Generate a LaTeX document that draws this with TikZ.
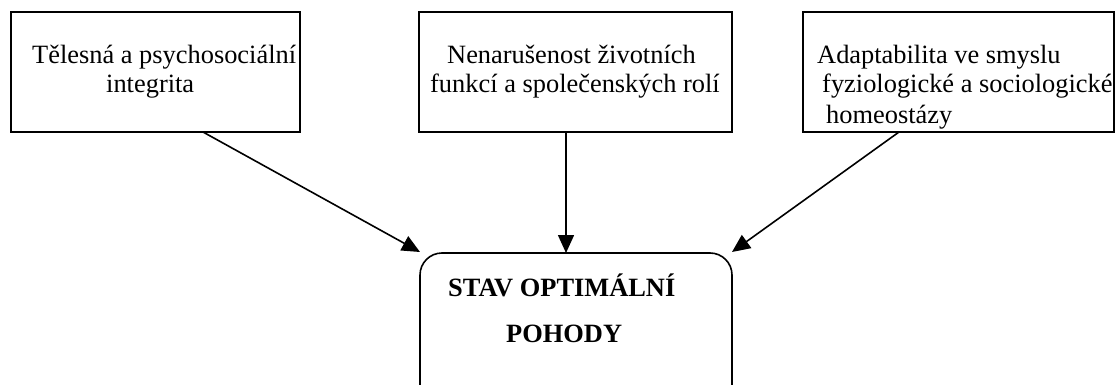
\documentclass[tikz,border=0pt]{standalone}
\usepackage{fontspec}
\setmainfont{Liberation Serif}
\usetikzlibrary{arrows.meta,calc}
\begin{document}
\begin{tikzpicture}[x=1pt,y=-1pt,
  box/.style={draw,line width=1.6pt},
  txt/.style={anchor=base west,inner sep=0pt,font=\fontsize{26.4}{30}\selectfont},
  btxt/.style={anchor=base west,inner sep=0pt,font=\fontsize{26.4}{30}\selectfont\bfseries},
  arr/.style={line width=1.6pt,-{Triangle[length=18pt,width=16pt]}}]
\useasboundingbox (0,0) rectangle (1115,385);
\clip (0,0) rectangle (1115,385);
\draw[box] (11,12) rectangle (300,132);
\draw[box] (419,12) rectangle (732,132);
\draw[box] (803,12) rectangle (1114,132);
\draw[box,rounded corners=22pt] (420,253) rectangle (732,410);
\coordinate (s1) at (203,132);
\coordinate (s2) at (566,132);
\coordinate (s3) at (899,132);
\coordinate (e1) at (420,252);
\coordinate (e2) at (566,253);
\coordinate (e3) at (732,252);
\node[txt] (t1a) at (32,64) {Tělesná a psychosociální};
\node[txt] (t1b) at (106,93) {integrita};
\node[txt] (t2a) at (447,64) {Nenarušenost životních};
\node[txt] (t2b) at (430,93) {funkcí a společenských rolí};
\node[txt] (t3a) at (817,64) {Adaptabilita ve smyslu};
\node[txt] (t3b) at (822,93) {fyziologické a sociologické};
\node[txt] (t3c) at (826,123) {homeostázy};
\node[btxt] (c1) at (448,296) {STAV OPTIMÁLNÍ};
\node[btxt] (c2) at (506,342) {POHODY};
\draw[arr] (s1) -- (e1);
\draw[arr] (s2) -- (e2);
\draw[arr] (s3) -- (e3);
\end{tikzpicture}
\end{document}
